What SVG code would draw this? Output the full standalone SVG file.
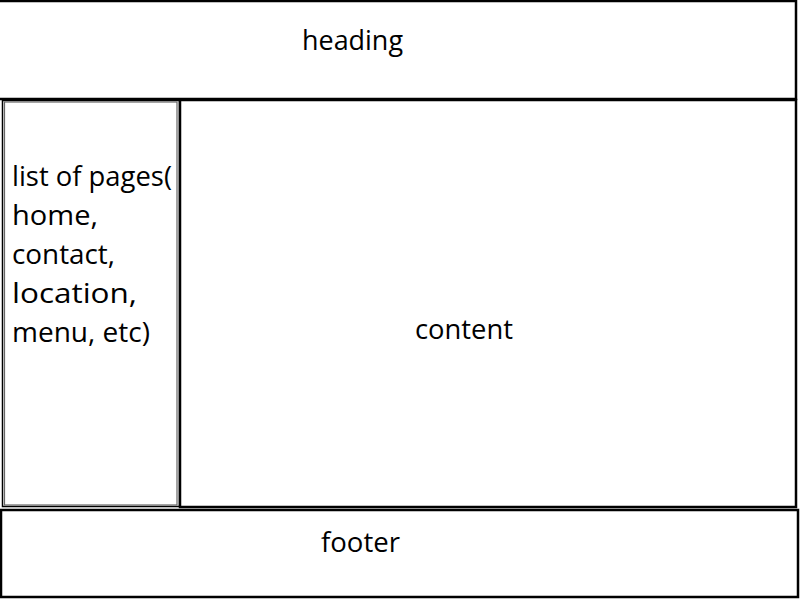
<svg xmlns="http://www.w3.org/2000/svg" width="800" height="600" viewBox="0 0 800 600">
<style>
.box{fill:none;stroke:#000;stroke-width:2.5}
.thin{fill:none;stroke:#000;stroke-width:1.5}
.gray{fill:none;stroke:#666;stroke-width:1.2}
text{font-family:"Open Sans","Noto Sans","Liberation Sans",sans-serif;font-size:27px;fill:#000}
</style>
<rect width="800" height="600" fill="#fff"/>
<g id="heading">
<rect class="box" x="-2" y="1" width="798" height="98"/>
<text x="302" y="50" textLength="101" lengthAdjust="spacingAndGlyphs">heading</text>
</g>
<g id="content">
<rect class="box" x="180" y="100" width="616" height="407"/>
<text x="415" y="339" textLength="98" lengthAdjust="spacingAndGlyphs">content</text>
</g>
<g id="sidebar">
<rect class="thin" x="2.5" y="100.5" width="177" height="406"/>
<rect class="gray" x="4.5" y="102" width="172.5" height="403"/>
<text x="12" y="186" textLength="160" lengthAdjust="spacingAndGlyphs">list of pages(</text>
<text x="12" y="225" textLength="86" lengthAdjust="spacingAndGlyphs">home,</text>
<text x="12" y="264" textLength="103" lengthAdjust="spacingAndGlyphs">contact,</text>
<text x="12" y="303" textLength="125" lengthAdjust="spacingAndGlyphs">location,</text>
<text x="12" y="342" textLength="138" lengthAdjust="spacingAndGlyphs">menu, etc)</text>
</g>
<g id="footer">
<rect class="box" x="1" y="510" width="797" height="87"/>
<text x="321" y="552" textLength="79" lengthAdjust="spacingAndGlyphs">footer</text>
</g>
<g id="connectors"></g>
</svg>
